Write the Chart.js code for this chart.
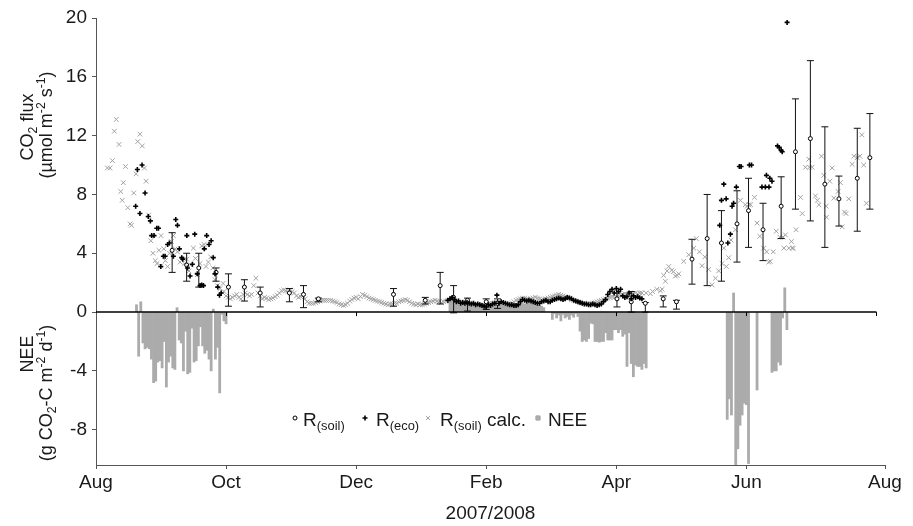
<!DOCTYPE html>
<html>
<head>
<meta charset="utf-8">
<script src="https://cdn.jsdelivr.net/npm/chart.js@4.4.1/dist/chart.umd.min.js"></script>
<style>
  html, body { margin: 0; padding: 0; background: #fff; }
</style>
</head>
<body>
<canvas id="flux" width="913" height="526"></canvas>
<script>
// x values are days counted from 1 Aug 2007
const monthTickDays = [0, 61, 122, 183, 244, 305, 370];
const monthTickLabels = ['Aug', 'Oct', 'Dec', 'Feb', 'Apr', 'Jun', 'Aug'];
const zeroAxisTickDays = [61, 122, 183, 244, 305, 366];
const zeroAxisEnd = 366;
const fluxTicks = [-8, -4, 0, 4, 8, 12, 16, 20];

// R(soil): chamber means with min / max
const soilDays = [35.7, 42.5, 48.2, 56.3, 62.1, 69.6, 77, 90.7, 97.3, 104.3, 139.5, 154.4, 161.4, 167.7, 174.2,
  183, 188.3, 244.3, 251, 257.6, 266, 272.2, 279.5, 286.6, 293.3, 300.6, 306, 312.8, 321.3, 328, 335, 341.8,
  348.4, 357, 362.9];
const soilMean = [4.2, 3.2, 3.0, 2.7, 1.7, 1.7, 1.3, 1.3, 1.2, 0.9, 1.2, 0.8, 1.8, 1.0, 0.8, 0.7, 0.6, 0.9, 0.7,
  0.6, 0.9, 0.7, 3.6, 5.0, 4.7, 6.0, 6.9, 5.6, 7.2, 10.9, 11.8, 8.7, 7.7, 9.1, 10.5];
const soilLow = [2.7, 2.1, 1.7, 2.1, 0.4, 0.75, 0.35, 0.7, 0.3, 0.7, 0.4, 0.55, 0.55, -0.05, 0.07, 0.18, 0.25,
  0.35, 0.0, 0.0, 0.35, 0.2, 1.9, 1.8, 2.1, 3.4, 4.4, 3.5, 5.0, 7.0, 6.2, 4.4, 5.85, 5.5, 7.0];
const soilHigh = [5.4, 4.0, 4.0, 3.0, 2.6, 2.2, 1.7, 1.6, 1.8, 0.95, 1.6, 1.0, 2.7, 1.8, 0.95, 0.9, 0.9, 1.3,
  1.4, 0.65, 1.1, 0.8, 4.95, 8.0, 6.9, 8.25, 9.1, 7.4, 9.2, 14.5, 17.1, 12.6, 9.25, 12.5, 13.5];

// R(eco)
const ecoEarlyDays = [18.6, 19.4, 20.6, 21.6, 23, 24.5, 25.5, 26.1, 27.2, 28.5, 29.3, 30.4, 31.6, 32.4, 33.6,
  34.4, 36.3, 37.4, 38.2, 39.1, 40.2, 40.7, 42.6, 42.9, 44.1, 45.2, 46.3, 47.5, 48.8, 49.6, 50.4, 50.8, 51.9,
  53, 54, 55, 55.8, 57.1, 57.9, 58.7];
const ecoEarlyValues = [7.2, 9.7, 6.7, 10.0, 8.1, 6.5, 6.2, 5.2, 5.2, 5.7, 5.7, 3.1, 3.8, 3.8, 4.6, 4.7, 3.8,
  6.3, 5.9, 4.3, 3.7, 3.6, 5.2, 3.0, 2.45, 3.25, 5.3, 2.6, 1.8, 1.85, 1.8, 4.3, 5.2, 4.6, 4.85, 3.7, 2.6, 1.7,
  1.15, 1.3];
const ecoWinterStart = 165;
const ecoWinterValues = [0.8, 0.9, 1.0, 0.85, 0.7, 0.75, 0.6, 0.65, 0.6, 0.65, 0.6, 0.55, 0.6, 0.5, 0.55, 0.5,
  0.45, 0.4, 0.35, 0.5, 0.45, 0.55, 0.6, 1.15, 0.6, 0.7, 0.65, 0.6, 0.55, 0.5, 0.5, 0.45, 0.45, 0.5, 0.7, 0.85,
  0.8, 0.75, 0.8, 0.75, 0.7, 0.65, 0.6, 0.6, 0.7, 0.75, 0.8, 0.7, 0.7, 0.8, 0.85, 0.9, 0.95, 0.9, 0.85, 0.9,
  1.0, 0.95, 0.9, 0.8, 0.75, 0.7, 0.65, 0.6, 0.55, 0.55, 0.5, 0.5, 0.55, 0.5, 0.45, 0.5, 0.55, 0.7, 0.85, 1.2,
  1.4, 1.55, 1.3, 1.6, 1.4, 1.55, 1.1, 1.0, 1.05, 1.3, 0.9, 1.1, 1.0, 1.05, 0.95, 0.9];
const ecoLateDays = [292.5, 293.3, 294.4, 295.5, 296.3, 297.5, 298.3, 299, 300.3, 301.7, 302.5, 306.4, 307.4,
  312.3, 313.9, 314.4, 315.6, 316, 317, 319.6, 320.4, 321.3, 321.8, 324.1];
const ecoLateValues = [5.9, 7.6, 8.7, 7.7, 4.7, 5.3, 7.2, 7.4, 8.5, 9.9, 9.9, 10.0, 10.0, 8.5, 8.5, 9.3, 8.5,
  9.1, 8.9, 11.3, 11.2, 11.0, 10.9, 19.7];

// R(soil) calc.
const calcEarlyDays = [5.3, 6.6, 7.7, 8.6, 9.5, 10.8, 11.6, 12.3, 12.8, 13.8, 14.9, 16, 16.6, 17.7, 18.8, 19.6,
  20.6, 21.7, 22.7, 23.5, 24.7, 25.7, 26.7, 27.8, 28.6, 29.5, 30.4, 30.5, 31.8, 32.5, 33.6, 34.5, 35.3, 36.3,
  37.1, 38.2, 39.4, 41.4, 42.5, 43.6, 44.4, 45.7, 46.6, 47.5, 48.8, 49.6, 50.7, 51.6, 52.7, 53.8, 54.8, 55.8,
  56.9, 58.2, 59.6];
const calcEarlyValues = [9.8, 9.8, 10.3, 12.3, 13.1, 11.4, 8.2, 7.6, 8.8, 9.9, 7.1, 6.0, 5.9, 8.1, 9.4, 11.6,
  12.1, 11.3, 9.8, 8.9, 6.6, 4.85, 4.0, 3.5, 3.3, 4.2, 3.15, 5.2, 4.3, 3.5, 3.1, 4.0, 4.8, 5.2, 4.3, 4.1, 3.4,
  3.3, 3.6, 2.8, 3.2, 4.35, 3.65, 2.55, 3.3, 4.5, 4.6, 3.1, 3.4, 3.75, 3.0, 2.2, 1.8, 1.6, 1.95];
const calcWinterStart = 60;
const calcWinterValues = [1.4, 1.1, 1.0, 0.9, 1.0, 1.1, 1.2, 1.0, 0.9, 1.2, 1.3, 1.2, 1.1, 1.2, 1.8, 2.3, 1.3,
  1.1, 0.9, 1.0, 0.95, 0.85, 0.9, 0.95, 1.05, 1.15, 1.3, 1.45, 1.5, 1.45, 1.4, 1.5, 1.4, 1.3, 1.1, 1.0, 1.05,
  1.1, 0.9, 0.7, 0.6, 0.6, 0.6, 0.65, 0.7, 0.75, 0.8, 0.8, 0.8, 0.8, 0.8, 0.75, 0.7, 0.65, 0.55, 0.5, 0.45, 0.5,
  0.6, 0.75, 0.85, 0.95, 1.0, 0.9, 1.05, 1.2, 1.15, 1.05, 0.95, 0.9, 0.85, 0.8, 0.75, 0.7, 0.65, 0.6, 0.55, 0.5,
  0.55,
  0.55, 0.6, 0.6, 0.7, 0.75, 0.8, 0.85, 0.8, 0.7, 0.6, 0.55, 0.5, 0.55, 0.5, 0.5, 0.55, 0.6, 0.65, 0.7, 0.75,
  0.8, 0.75, 0.7, 0.65, 0.7, 0.75, 0.8,
  0.75, 0.8, 0.8, 0.75, 0.7, 0.7, 0.65, 0.6, 0.6, 0.6, 0.55, 0.55, 0.5, 0.5, 0.45, 0.45, 0.5, 0.5, 0.55, 0.6,
  0.6, 0.65, 0.65, 0.6, 0.6, 0.55, 0.5, 0.5, 0.55, 0.6, 0.7, 0.8, 0.85, 0.9, 0.95, 0.95, 0.9, 0.85, 0.9, 0.95,
  1.0, 0.95, 0.9, 0.85, 0.85, 0.9, 0.95, 1.0, 1.05, 1.1, 1.15, 1.2, 1.15, 1.1, 1.05, 1.0, 0.95, 0.85, 0.8, 0.75,
  0.7, 0.65, 0.6, 0.6, 0.55, 0.55, 0.6, 0.6, 0.65, 0.7, 0.75, 0.8, 0.85, 0.9, 0.95, 1.0, 1.05, 1.0, 1.05, 1.1,
  1.15, 1.2, 1.25, 1.2, 1.15, 1.2, 1.25, 1.3, 1.25, 1.3, 1.3];
const calcLateDays = [258, 260, 261, 263, 264.7, 265.5, 266.2, 267, 267.8, 268.6, 270, 270.8, 271.7, 272.5,
  273.3, 275.6, 278, 280.3, 281.5, 283, 284.2, 285.5, 287.3, 288.9, 290.5, 292, 293.6, 294.4, 295.6, 296.7,
  297.8, 299.9, 302.2, 304.5, 305.3, 306.2, 307, 308.8, 310, 311.3, 313.1, 314.5, 315.5, 316.2, 317.6, 319,
  320.7, 322.2, 322.6, 323.3, 324.9, 326.1, 326.5, 327, 328.3, 330.4, 331.2, 332.7, 334.3, 334.6, 335.8, 337.4,
  338.3, 339, 340.2, 341.3, 342.4, 342.6, 344.1, 345.2, 346, 348, 349.1, 349.9, 351, 351.7, 353, 354.6, 355.4,
  357, 358.2, 359.1, 360, 361.3];
const calcLateValues = [1.3, 1.25, 1.4, 1.55, 1.45, 1.55, 2.5, 2.1, 2.8, 3.1, 2.85, 2.75, 2.45, 2.5, 2.6, 3.45,
  3.9, 4.35, 5.0, 4.1, 3.15, 3.75, 2.9, 1.85, 2.3, 2.8, 3.3, 4.35, 3.1, 3.7, 4.9, 5.6, 7.6, 7.3, 7.2, 7.3, 7.3,
  7.8, 6.05, 5.15, 4.35, 4.1, 3.4, 3.45, 4.1, 5.5, 5.1, 5.1, 4.35, 5.25, 4.35, 4.8, 4.35, 4.35, 5.6, 7.8, 6.7,
  9.85, 10.4, 9.85, 9.85, 7.9, 7.6, 7.3, 10.6, 9.3, 7.2, 6.45, 8.9, 9.8, 7.75, 8.2, 8.8, 5.8, 6.8, 6.7, 7.7,
  10.05, 10.6, 10.5, 10.6, 12.05, 10.0, 7.4];

// NEE daily sums, one value per day from each start day
const neeAutumnStart = 19;
const neeAutumn = [0.5, -3.0, 0.7, -2.1, -2.5, -2.4, -2.5, -3.2, -4.8, -4.7, -3.4, -3.3, -3.8, -2.0, -5.1, -3.4,
  -3.0, -3.8, -3.9, 0.3, -1.9, -2.1, -4.0, -1.3, -4.2, -4.1, -1.1, -3.4, -3.3, -2.3, -1.0, -2.3, -2.8, -2.6,
  -3.2, -4.0, 0.2, -3.2, -2.4, -5.5, -0.15, -0.6, -0.8];
const neeWinterStart = 166;
const neeWinter = [0.9, 1.0, 0.8, 0.7, 0.6, 0.5, 0.55, 0.5, 0.45, 0.5, 0.4, 0.45, 0.4, 0.35, 0.4, 0.3, 0.35,
  0.3, 0.35, 0.4, 0.4, 0.45, 0.5, 0.45, 0.5, 0.45, 0.4, 0.35, 0.4, 0.45, 0.5, 0.55, 0.6, 0.65, 0.6, 0.55, 0.6,
  0.65, 0.6, 0.55, 0.6, 0.5, 0.45, 0.4, 0.3];
const neeSpringStart = 214;
const neeSpring = [-0.5, -0.1, -0.4, -0.2, -0.6, -0.15, -0.4, -0.3, -0.5, -0.2, -0.35, -0.1, -0.3, -1.3, -2.0,
  -1.9, -2.0, -1.8, -0.75, -0.8, -2.0, -2.0, -2.05, -2.0, -2.0, -1.4, -1.9, -1.9, -1.9, -1.2, -1.2, -1.4, -1.2,
  -1.65, -1.5, -3.7, -1.4, -3.5, -4.4, -3.6, -3.7, -3.7, -3.9, -3.5, -3.8];
const neeSummerStart = 296;
const neeSummer = [-7.3, -5.9, -7.0, 1.3, -10.4, -9.3, -7.7, -7.0, -6.2, -6.3, -10.3, null, null, null, -5.3,
  null, null, null, null, null, null, -4.1, -4.0, -4.0, -3.4, -3.6, -0.4, 1.65, -1.2];

const FONT = "'Liberation Sans', Arial, sans-serif";
const TEXT = '#1a1a1a';
const GREY_BAR = '#ababab';
const GREY_CROSS = '#a2a2a2';

Chart.defaults.font.family = FONT;
Chart.defaults.color = TEXT;

const byDay = (start, values) =>
  values.map((v, i) => ({ x: start + i, y: v })).filter(p => p.y !== null);
const paired = (days, values) => days.map((d, i) => ({ x: d, y: values[i] }));

const ecoPoints = [
  ...paired(ecoEarlyDays, ecoEarlyValues),
  ...byDay(ecoWinterStart, ecoWinterValues),
  ...paired(ecoLateDays, ecoLateValues)
];
const calcPoints = [
  ...paired(calcEarlyDays, calcEarlyValues),
  ...byDay(calcWinterStart, calcWinterValues),
  ...paired(calcLateDays, calcLateValues)
];
const neeBars = [
  ...byDay(neeAutumnStart, neeAutumn),
  ...byDay(neeWinterStart, neeWinter),
  ...byDay(neeSpringStart, neeSpring),
  ...byDay(neeSummerStart, neeSummer)
];
const soilPoints = paired(soilDays, soilMean);
// vertical min-max bars, broken by a null after each one
const soilStems = soilDays.flatMap((d, i) => [{ x: d, y: soilLow[i] }, { x: d, y: soilHigh[i] }, { x: d, y: null }]);
const soilCaps = soilDays.flatMap((d, i) => [{ x: d, y: soilLow[i] }, { x: d, y: soilHigh[i] }]);

// draws text runs with sub- (-1) and superscripts (1), left aligned on the baseline
function richWidth(ctx, parts, size) {
  let w = 0;
  parts.forEach(([t, s]) => {
    ctx.font = (s ? size * 0.68 : size) + 'px ' + FONT;
    w += ctx.measureText(t).width;
  });
  return w;
}
function drawRich(ctx, parts, x, y, size) {
  let cx = x;
  parts.forEach(([t, s]) => {
    ctx.font = (s ? size * 0.68 : size) + 'px ' + FONT;
    const dy = s === -1 ? size * 0.22 : s === 1 ? -size * 0.4 : 0;
    ctx.fillText(t, cx, y + dy);
    cx += ctx.measureText(t).width;
  });
}
function drawVertical(ctx, parts, baseX, centerY, size) {
  const w = richWidth(ctx, parts, size);
  ctx.save();
  ctx.translate(baseX, centerY);
  ctx.rotate(-Math.PI / 2);
  drawRich(ctx, parts, -w / 2, 0, size);
  ctx.restore();
}

const axisTitles = [
  { parts: [['CO', 0], ['2', -1], [' flux', 0]], x: 33, y: 127 },
  { parts: [['(\u00b5mol m', 0], ['-2', 1], [' s', 0], ['-1', 1], [')', 0]], x: 52, y: 125 },
  { parts: [['NEE', 0]], x: 33, y: 354 },
  { parts: [['(g CO', 0], ['2', -1], ['-C m', 0], ['-2', 1], [' d', 0], ['-1', 1], [')', 0]], x: 52, y: 393 }
];

const legendItems = [
  { parts: [['R', 0], ['(soil)', -1]], style: 'circle', r: 2, color: '#000', fill: '#fff', mx: 295, tx: 303 },
  { parts: [['R', 0], ['(eco)', -1]], style: 'cross', r: 2.5, color: '#000', fill: '#000', mx: 365, tx: 376 },
  { parts: [['R', 0], ['(soil)', -1], [' calc.', 0]], style: 'crossRot', r: 3, color: GREY_CROSS, fill: GREY_CROSS, mx: 428, tx: 440 },
  { parts: [['NEE', 0]], style: 'rect', r: 3, color: GREY_BAR, fill: GREY_BAR, mx: 538, tx: 548 }
];

const overlay = {
  id: 'overlay',
  afterDatasetsDraw(chart) {
    const { ctx, scales: { x, y } } = chart;
    const y0 = y.getPixelForValue(0);
    ctx.save();
    ctx.strokeStyle = '#000';
    ctx.lineWidth = 1.5;
    ctx.beginPath();
    ctx.moveTo(x.getPixelForValue(0), y0);
    ctx.lineTo(x.getPixelForValue(zeroAxisEnd), y0);
    ctx.stroke();
    ctx.lineWidth = 1;
    ctx.beginPath();
    zeroAxisTickDays.forEach(d => {
      const px = Math.round(x.getPixelForValue(d)) + 0.5;
      ctx.moveTo(px, y0);
      ctx.lineTo(px, y0 + 4);
    });
    ctx.stroke();
    ctx.restore();
  },
  afterDraw(chart) {
    const ctx = chart.ctx;
    ctx.save();
    ctx.fillStyle = TEXT;
    ctx.textBaseline = 'alphabetic';
    axisTitles.forEach(t => drawVertical(ctx, t.parts, t.x, t.y, 18));

    const legendY = 418;
    legendItems.forEach(item => {
      ctx.strokeStyle = item.color;
      ctx.fillStyle = item.fill;
      ctx.lineWidth = item.style === 'cross' ? 1.6 : 1;
      Chart.helpers.drawPoint(ctx, { pointStyle: item.style, radius: item.r, rotation: 0, borderWidth: ctx.lineWidth }, item.mx, legendY);
      ctx.fillStyle = TEXT;
      drawRich(ctx, item.parts, item.tx, legendY + 8, 19);
    });
    ctx.restore();
  }
};

new Chart(document.getElementById('flux'), {
  type: 'scatter',
  data: {
    datasets: [
      {
        label: 'R(eco)', data: ecoPoints, order: 1,
        pointStyle: 'cross', pointRadius: 2.5, pointBorderWidth: 1.6, pointBorderColor: '#000'
      },
      {
        label: 'R(soil)', data: soilPoints, order: 2,
        pointStyle: 'circle', pointRadius: 2, pointBorderWidth: 1,
        pointBorderColor: '#000', pointBackgroundColor: '#fff'
      },
      {
        label: 'caps', data: soilCaps, order: 3,
        pointStyle: 'line', pointRadius: 3.5, pointBorderWidth: 1, pointBorderColor: '#111'
      },
      {
        type: 'line', label: 'stems', data: soilStems, order: 3,
        borderColor: '#111', borderWidth: 1, pointRadius: 0, spanGaps: false, tension: 0
      },
      {
        label: 'R(soil) calc.', data: calcPoints, order: 4,
        pointStyle: 'crossRot', pointRadius: 3.3, pointBorderWidth: 1, pointBorderColor: GREY_CROSS
      },
      {
        type: 'bar', label: 'NEE', data: neeBars, order: 5,
        backgroundColor: GREY_BAR, borderWidth: 0, barPercentage: 1, categoryPercentage: 1
      }
    ]
  },
  options: {
    responsive: false,
    animation: false,
    devicePixelRatio: 1,
    events: [],
    layout: { padding: { left: 0, top: 18, right: 28, bottom: 0 } },
    plugins: { legend: { display: false }, tooltip: { enabled: false } },
    scales: {
      x: {
        type: 'linear', min: 0, max: 370, offset: false,
        afterBuildTicks: s => { s.ticks = monthTickDays.map(v => ({ value: v })); },
        afterFit: s => { s.height = 61; },
        ticks: {
          callback: (v, i) => monthTickLabels[i],
          font: { size: 19 }, color: TEXT, padding: 2, autoSkip: false, maxRotation: 0
        },
        grid: { drawOnChartArea: false, tickLength: 4, color: '#555', offset: false },
        border: { color: '#555', width: 1 },
        title: { display: true, text: '2007/2008', font: { size: 19 }, color: TEXT, padding: { top: 0, bottom: 0.5 } }
      },
      y: {
        type: 'linear', min: -10.4, max: 20,
        afterBuildTicks: s => { s.ticks = fluxTicks.map(v => ({ value: v })); },
        afterFit: s => { s.width = 96; },
        ticks: { font: { size: 19 }, color: TEXT, padding: 5 },
        grid: { drawOnChartArea: false, tickLength: 4, color: '#555' },
        border: { color: '#555', width: 1 }
      }
    }
  },
  plugins: [overlay]
});
</script>
</body>
</html>
